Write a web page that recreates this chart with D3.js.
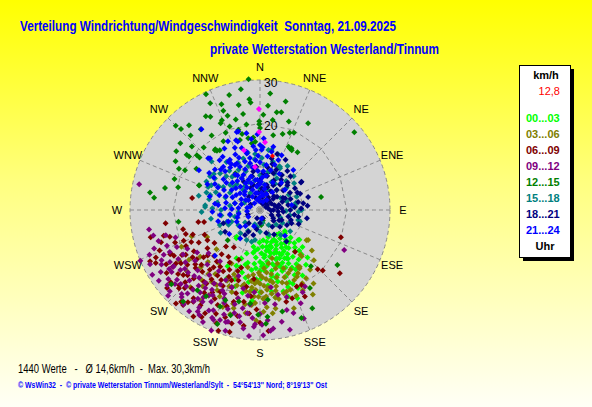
<!DOCTYPE html>
<html>
<head>
<meta charset="utf-8">
<script src="https://cdn.jsdelivr.net/npm/d3@7"></script>
<style>
  body { margin: 0; padding: 0; overflow: hidden; }
  svg text { font-family: "Liberation Sans", Arial, sans-serif; white-space: pre; }
</style>
</head>
<body>
<div id="chart"></div>
<script>
// wind direction (deg) / speed (km/h) per 3-hour block
const h00_03 = [[174,7.0],[160,7.8],[170,8.6],[145,8.0],[133,7.9],[127,11.4],[151,12.7],[156,18.6],[160,18.9],[157,22.1],
  [220,8.5],[221,8.2],[130,7.5],[146,6.9],[128,11.2],[190,8.6],[206,17.5],[199,13.9],[206,12.4],
  [150,10],[155,9],[162,10.5],[168,11],[172,12],[158,12],[165,13.5],[152,14],[148,12],[143,11],[138,10],[160,15],
  [170,15.5],[176,14],[180,12],[185,11],[178,10],[164,8.5],[156,11],[149,16],[142,14.5],[136,13],[166,17],[174,17.5],
  [183,16],[188,14],[193,12.5],[196,15],[200,17],[154,20],[162,21],[172,19],[168,7.5],[181,7.5],[153,8.2],[139,9],
  [135,15.5],[147,18],[159,16.5],[177,20.5],[186,18.5],[192,19.5],[163,6.5],[141,7],[171,9.5],[157,13.2],[161,11.8],
  [167,12.8],[175,11],[184,13.5],[151,15.2],[145,13.2],[137,11.8],[132,9.5],[154,11.4],[169,14.3],[179,15.8],
  [189,16.8],[203,14],[210,15],[197,10.5],[158,9.8],[148,9.2],[166,10.2],[173,13],[160,14],
  [150,11],[153,12.5],[156,14.5],[159,10.5],[162,12],[165,15.5],[168,9.5],[171,16.5],[174,10.5],[177,12.5],[180,14],
  [183,9],[186,12.5],[189,10],[192,16],[195,13],[198,18.5],[201,12],[146,15],[143,9.5],[140,12.5],[137,14],[134,11],
  [131,13],[152,17],[158,18],[164,19.5],[170,20.5],[180,19],[185,21],[155,7.5],[163,9],[176,8.5],[187,9.5],[150,13],
  [161,13.5],[167,16],[178,13],[145,10.5],[140,16.5]];

const h03_06 = [[249,16.9],[243,13.7],[122,13.1],[128,15.2],[138,13.9],[138,14.4],[145,16.0],[123,12.8],[146,15.8],
  [146,16.3],[153,15.5],[151,17.6],[162,19.8],[159,19.7],
  [165,14],[170,15],[175,16],[180,17],[168,18],[172,19.5],[178,20.5],[183,18.5],[187,16.5],[160,16.5],[163,17.5],
  [176,13.5],[181,14.5],[190,19],[194,21],[199,20],[185,22],[176,22.5],[168,21],[157,21.5],[154,18],[188,24],[196,25],
  [205,22],[210,20],[215,18],[220,21],[226,19],[232,17.5],[238,22],[245,20],[202,16],[208,14],[192,13.5],[171,12.5],
  [166,11.5],[174,18],[179,19],[184,20],[170,17],[177,17.5],[162,13],[158,14.5],[150,19.5],[144,21],[140,18],[133,17],
  [148,23],[161,24],[182,25.5],[173,24],[192,17.5],[197,18.2],[186,15],[213,25],[222,24],[218,15.5],[228,13.5],
  [166,16],[169,19],[172,16.5],[175,18.5],[178,15.5],[181,20],[184,17],[187,19],[190,15.5],[193,18],[196,22.5],
  [199,16.5],[202,19],[205,18],[208,21],[211,23],[214,20],[217,22],[164,20],[160,18],[156,16],[152,21],[149,17],
  [146,19],[171,23],[178,23.5],[183,21.5],[189,22],[195,23.5],[201,24],[230,22],[235,20],[225,17],[219,19],[174,14.5],
  [180,15],[186,18],[170,20.5],[176,20],[182,16.5]];

const h06_09 = [[253.5,21.7],[244,22.9],[237.6,23.0],[229.7,23.2],[227,25.5],[216,26.2],[212,25.9],[208.6,28.1],
  [256,18.3],[258,13.2],[259,14.5],[245.5,26.4],[243.8,23.1],[240,20.8],[220.7,27.9],[219,28.2],[108.6,19.7],
  [135.8,19.1],[133.9,20.1],[128.4,23.5],[140,12.6],[154.4,19.6],[151,19.8],[152.6,22.5],[160,21.7],[164,22.0],[280,15.9],
  [200,15],[205,17],[210,14],[215,16],[220,18],[225,15],[230,17],[235,19],[212,20],[218,21],[224,22],[206,21],[200,19],
  [196,22],[190,18],[186,20],[182,23],[192,25],[198,26],[204,24],[228,20],[232,24],[238,18],[242,16],[248,19],[252,24],
  [236,26],[226,26],[214,23],[209,18.5],[203,12.5],[214,13],[221,13.5],[246,14],[234,13],[217,25.5],[222,29],[230,28],
  [201,28],[194,29],[188,27],[180,26],[176,28],[211,16.5],[219,17],[227,18.5],[233,21],[207,23],[199,23.5],[185,16],
  [240,25],[245,28],[256,26],[262,22],[250,16.5],[197,17],[223,11.5],[215,10.5],
  [198,14],[202,17.5],[206,19.5],[210,22],[213,18],[216,21],[220,15.5],[223,19.5],[226,24],[229,16],[232,18.5],
  [236,22],[239,20],[242,22.5],[245,17.5],[249,21],[252,18],[255,23],[203,26],[208,27],[212,29],[218,27],[224,25],
  [231,26.5],[237,24],[243,27],[248,25],[207,15.5],[215,19.5],[221,24],[228,22.5],[234,15],[240,14],[196,20],
  [190,21.5],[186,24],[194,27],[199,29.5],[244,19],[230,19.5]];

const h09_12 = [[256.5,25.3],[243.7,28.3],[236.8,23.9],[235,24.9],[211.5,27.5],[204,27.2],[196,26.8],[190,26.3],
  [185,29.2],[188,27.6],[182.5,26.4],[178.5,28.9],[173.6,27.5],[169,26.3],[165,23.9],[156.4,23.5],[149.6,20.5],
  [152.6,21.4],[115.4,21.5],[282,28.5],[237,23.8],
  [215,22],[220,24],[225,23],[230,25],[235,21],[240,24],[245,23],[250,26],[218,19],[212,20],[208,24],[202,22],[198,24],
  [194,21],[190,23],[186,22],[200,19],[226,20],[232,19],[222,27],[216,26],[210,28],[228,28],[238,27],[246,21],
  [252,20.5],[242,19],[229,22],[224,17.5],[206,18],[214,17],[196,29],[202,30],[180,24],[176,25.5],[171,22],[162,25],
  [158,27],[166,28.5],[192,18.5],[188,20],[205,25.5],[212,25],[219,22.5],[233,26.5],[239,22],[248,27.5],[255,22.5],
  [260,26],[227,25],[203,21],[211,21.5],[197,27],[184,25],[230,15.5],[218,15],[236,17.5],[222,21],[215,28.5],[207,29],
  [243,25.5],[184,19],[177,21.5],[172,18],[168,20],[163,21],[198,16],
  [201,23],[205,20.5],[209,22.5],[213,24],[217,21],[221,25.5],[225,21.5],[229,26],[233,23],[237,25],[241,26],
  [245,24.5],[249,23],[253,24.5],[195,22.5],[191,25],[187,24],[183,27],[179,26.5],[175,28],[199,25.5],[203,27.5],
  [207,26],[211,23],[215,25],[219,28],[223,26.5],[227,29],[231,27.5],[235,28.5],[239,29],[247,30],[208,19.5],
  [216,23.5],[224,24.5],[232,22],[240,20.5],[212,26.5],[200,27],[194,24.5]];

const h12_15 = [[355,30.3],[335,29.5],[335,27.2],[351,28.2],[354.5,25.7],[355,24.9],[348.5,24.7],[4.4,24.1],
  [13.3,25.7],[9.7,22.9],[12.3,23.1],[339.7,24.4],[341,23.0],[332,24.4],[345,21.6],[359.5,20.5],[359.5,19.8],[0,18.9],
  [351,20.0],[335.6,22.0],[315,27.5],[315.7,26.1],[323.7,23.1],[317,23.5],[336,19.5],[345,19.2],[346.7,18.0],
  [354.7,16.8],[356,15.8],[16.6,18.3],[21,19.1],[23.7,19.5],[24.4,16.0],[27,16.0],[33,15.9],[29,22.9],[50.5,28.2],
  [305,23.6],[307,21.2],[307,20.5],[311,19.3],[311,18.5],[318,19.4],[323.6,17.4],[324,16.9],[297,21.0],[298,19.6],
  [292,15.1],[285.5,19.6],[279,25.7],[276.6,24.6],[78,14.4],[326,10.2],
  [137.8,17.5],[125.4,21.9],[147.4,21.4],[152,25.7],[167.6,24.0],[159,26.7],[177,26.3],
  [261.8,19.0],[227,10.2],[200.5,28.1],[230,26.7],[212,23.5],[195.6,25.2],[175,20.8],[202.5,24.1],[176,24.7],
  [186,21.7],[218,23.5],[220,27.6],[201,22.3],[181,24.2],[193,21.7],
  [170,3],[165,2.5],[175,3.5],[324.5,9.9],[353,15.5],[350.7,16.8],[344,16.8],[323,17.3],[326,16.6],[26,15.8],[28,15.6],
  [292,15.2],[24,10.9],
  [340,26],[330,25],[320,25.5],[310,24],[300,22.5],[345,27.5],[5,27],[8,21],[18,21.5],[350,22.5],[327,20.5],
  [313,21.5],[303,17.5],[290,21],[283,22.5],[340,20.5],[332,18],[2,22],[10,17.5],[337,22.5]];

const h15_18 = [[275,12.7],[286.7,12.0],[297,12.6],[315,15.8],[312.5,12.5],[305,12.7],[249.4,9.9],[250.6,8.1],
  [22,9.1],[27.8,8.3],[24.8,11.0],[82,8.2],[92.5,8.9],[106,9.6],[11,14.1],[304,13.9],[294,13.1],[273,12.7],[354,11.8],
  [25.6,10.7],[31.8,9.5],[84,7.7],[79,8.4],[84.6,8.1],[90,9.6],[104.6,9.1],[204,7.6],[194.7,7.6],[189.5,7.0],
  [247.6,7.1],[235,6.1],
  [300,8],[310,9],[320,10],[330,8.5],[340,9.5],[350,7],[0,8],[10,6],[20,5],[40,6],[60,5.5],[120,6],[150,4],[180,5],
  [210,5.5],[230,4.5],[260,7],[270,9],[280,10],[290,8.5],[300,11],[320,6],[335,12],[345,10.5],[5,10.5],[15,11.5],
  [30,7],[50,8],[70,9],[110,5],[140,7.5],[170,3],[200,3.5],[240,10.5],[265,5],[285,6],[325,13.5],[315,11],[355,13],
  [45,11],[260,11.5],[283,14.5],[295,4],[330,4.5],
  [262,9],[272,11],[282,12],[292,11],[302,10],[312,8],[322,11.5],[332,10.5],[342,12.5],[352,9.5],[2,12],[12,9],
  [22,7],[32,12],[42,9],[52,10],[62,7.5],[72,6.5],[92,6],[112,7.5],[132,5],[160,6],[190,4],[220,7],[245,8],[255,6],
  [268,13.5],[278,7],[288,13],[298,14],[308,13.5],[318,8],[328,6.5],[338,7],[348,13.5],[358,5],[8,14],[18,13.5],
  [100,7],[125,8.5]];

const h18_21 = [[55.8,11.6],[81,10.1],[65,6.4],[80,6.6],[85.5,5.0],[105,4.4],[78.6,1.9],[113,2.9],[122,3.6],
  [211,6.7],[208,5.7],[195,6.0],[238,9.5],[250,9.0],[143.6,4.8],[12.7,12.2],[56,11.4],[95,4.2],[94,5.4],[90,3.1],
  [115,5.5],[103,6.7],[112.8,7.9],[119,7.1],
  [10,3],[20,4],[30,5],[40,6],[50,7],[60,8],[70,7.5],[15,6],[25,7.5],[35,8.5],[45,9],[5,5],[355,4],[345,6],[340,3],
  [0,7],[30,2.5],[60,3],[75,4.5],[50,4],[40,2],[20,9],[10,10],[65,9.5],[85,8],[100,9],[130,6],[160,2],[200,2],
  [250,3],[300,2.5],[320,4],[330,7.5],[350,9],[15,11],[35,11],[45,4.5],[70,5.5],[90,7],[55,2],[25,1.5],[140,9.5],
  [8,4.5],[18,5.5],[28,6.5],[38,7.5],[48,8.5],[58,9.5],[68,10],[78,9],[88,9.5],[98,8],[108,7.5],[118,5],[128,4],
  [12,8],[22,10],[32,9.5],[42,10.5],[52,5],[62,6],[72,3.5],[82,4],[92,2.5],[2,2],[357,6],[347,8],[337,5.5],[33,3.5],
  [43,3],[63,1.5],[110,9.5],[100,11],[75,11.5],[85,11],[27,13],[17,13.5],[5,8.5],[355,10],[180,3],[190,4.5],[220,4],
  [165,5.5],[150,6.5]];

const h21_24 = [[344.5,18.8],[342,16.6],[330,16.4],[315,16.9],[0,15.0],[1.6,13.9],[11.9,14.9],[11.3,13.7],
  [21.5,13.6],[346.8,13.4],[349,12.2],[342.7,11.7],[331,11.9],[326.7,13.3],[319.7,13.1],[324,23.0],[303,16.8],
  [343.4,18.8],[354,14.8],[356,13.9],[2.5,14.5],[39.8,12.0],[316,16.6],[321,14.8],[343.5,14.9],[347,13.8],
  [329,13.5],[333.5,12.0],[20,12.3],[277,9.7],[263,9.3],[273,8.1],[250,7.8],[240,3.1],[288,2.4],[11,5.9],[34,2.8],
  [51,7.4],[81,7.4],[330,8.4],[320.7,5.5],[224.6,14.8],[136,8.3],
  [300,5],[310,6],[320,7],[330,6],[340,5],[350,4],[355,7],[345,8],[335,9],[325,10],[315,9],[305,8],[295,7],[285,6],
  [275,5],[290,10],[300,12],[310,11],[335,11],[350,10],[5,9],[0,11],[10,8],[355,11.5],[340,10],[320,2],[0,3],[20,2],
  [280,3],[260,5],[230,6],[200,4],[170,2],[330,3.5],[345,2.5],[310,3.5],[0,6],[15,9.5],[8,12.5],[353,16.5],
  [338,15.5],[325,15],[305,13],[298,11],[285,12],[312,14],[357,9],[5,4],
  [302,6.5],[312,7.5],[322,8.5],[332,7],[342,6.5],[352,5.5],[2,6.5],[12,5],[22,4],[292,8.5],[282,8],[272,6.5],
  [262,7],[252,5.5],[318,12],[328,12.5],[338,13],[348,11],[358,12.5],[8,10.5],[18,11],[28,9.5],[38,8],[296,13.5],
  [306,14.5],[316,13],[336,14],[341,17],[350,18],[358,17.5],[3,16.5],[335,17.5],[325,12],[315,5],[305,4],[345,4],
  [355,2],[35,5],[25,7],[287,4.5],[265,3],[243,6],[222,5],[232,9],[215,8],[255,10],[268,11],[278,10.5],[299,9.5],
  [309,10],[327,9.5],[339,7.5],[351,7],[4,7.5],[13,3.5]];

const pinkMarks = [[359.4,23.3],[359.3,18.0],[4.2,15.7],[345,14.3],[353.4,10.0]];
const current = [13, 12.8];

const blockLabels = ["00...03","03...06","06...09","09...12","12...15","15...18","18...21","21...24"];
const blockColors = ["#00ff00","#808000","#800000","#800080","#008000","#008080","#000080","#0000ff"];
const blockData = [h00_03, h03_06, h06_09, h09_12, h12_15, h15_18, h18_21, h21_24];

const compass = ["N","NNE","NE","ENE","E","ESE","SE","SSE","S","SSW","SW","WSW","W","WNW","NW","NNW"];
const rings = [10, 20, 30];

const W = 592, H = 407;
const cx = 260, cy = 210;

const svg = d3.select("#chart").append("svg")
    .attr("width", W)
    .attr("height", H);

const defs = svg.append("defs");
const grad = defs.append("linearGradient")
    .attr("id", "bg")
    .attr("x1", 0).attr("y1", 0).attr("x2", 0).attr("y2", 1);
grad.append("stop").attr("offset", "0%").attr("stop-color", "#ffff00");
grad.append("stop").attr("offset", "45%").attr("stop-color", "#ffff80");
grad.append("stop").attr("offset", "100%").attr("stop-color", "#fffff6");

svg.append("rect").attr("width", W).attr("height", H).attr("fill", "url(#bg)");

const rScale = d3.scaleLinear().domain([0, 30]).range([0, 130]);
const toRad = d => d * Math.PI / 180;
function pos(dir, spd) {
    const p = d3.pointRadial(toRad(dir), rScale(spd));
    return [cx + p[0], cy + p[1]];
}

// titles
svg.append("text")
    .attr("x", 20).attr("y", 31)
    .attr("font-size", 14).attr("font-weight", "bold")
    .attr("fill", "#0000ff")
    .attr("textLength", 376).attr("lengthAdjust", "spacingAndGlyphs")
    .text("Verteilung Windrichtung/Windgeschwindigkeit  Sonntag, 21.09.2025");

svg.append("text")
    .attr("x", 210).attr("y", 54)
    .attr("font-size", 14).attr("font-weight", "bold")
    .attr("fill", "#0000ff")
    .attr("textLength", 229).attr("lengthAdjust", "spacingAndGlyphs")
    .text("private Wetterstation Westerland/Tinnum");

// polar plot area
const plot = svg.append("g").attr("transform", `translate(${cx},${cy})`);

plot.append("circle")
    .attr("r", rScale(30))
    .attr("fill", "#d4d4d4")
    .attr("stroke", "#8a8a8a")
    .attr("stroke-dasharray", "4,3");

const angles = d3.range(16).map(i => i * 22.5);

plot.selectAll("line.spoke")
    .data(angles)
    .enter()
    .append("line")
    .attr("class", "spoke")
    .attr("x1", 0).attr("y1", 0)
    .attr("x2", d => d3.pointRadial(toRad(d), rScale(30))[0])
    .attr("y2", d => d3.pointRadial(toRad(d), rScale(30))[1])
    .attr("stroke", "#8a8a8a")
    .attr("stroke-dasharray", "4,3");

plot.selectAll("path.ring")
    .data(rings.slice(0, 2))
    .enter()
    .append("path")
    .attr("class", "ring")
    .attr("d", v => d3.lineRadial().curve(d3.curveLinearClosed)
        .angle(a => toRad(a)).radius(rScale(v))(angles))
    .attr("fill", "none")
    .attr("stroke", "#8a8a8a")
    .attr("stroke-dasharray", "4,3");

plot.selectAll("text.ringlabel")
    .data(rings)
    .enter()
    .append("text")
    .attr("class", "ringlabel")
    .attr("x", 4)
    .attr("y", v => -rScale(v) + 7)
    .attr("font-size", 12)
    .attr("fill", "#000")
    .text(v => v);

// compass labels
svg.selectAll("text.dir")
    .data(compass)
    .enter()
    .append("text")
    .attr("class", "dir")
    .attr("x", (d, i) => cx + d3.pointRadial(toRad(i * 22.5), 143)[0])
    .attr("y", (d, i) => cy + d3.pointRadial(toRad(i * 22.5), 143)[1])
    .attr("text-anchor", "middle")
    .attr("dominant-baseline", "central")
    .attr("font-size", 11)
    .attr("fill", "#000")
    .text(d => d);

// points, oldest block first
const diamond = "M0,-3L3,0L0,3L-3,0Z";
blockData.forEach((data, k) => {
    svg.append("g")
        .selectAll("path")
        .data(data)
        .enter()
        .append("path")
        .attr("d", diamond)
        .attr("transform", d => `translate(${pos(d[0], d[1])})`)
        .attr("fill", blockColors[k]);
});

svg.append("g")
    .selectAll("path")
    .data(pinkMarks)
    .enter()
    .append("path")
    .attr("d", diamond)
    .attr("transform", d => `translate(${pos(d[0], d[1])})`)
    .attr("fill", "#ff00ff");

svg.append("path")
    .attr("d", "M0,-2.5L2.5,0L0,2.5L-2.5,0Z")
    .attr("transform", `translate(${pos(current[0], current[1])})`)
    .attr("fill", "#ff0000");

// legend box
svg.append("rect")
    .attr("x", 523).attr("y", 69).attr("width", 51).attr("height", 192)
    .attr("fill", "#000");
svg.append("rect")
    .attr("x", 519.5).attr("y", 65.5).attr("width", 51).attr("height", 192)
    .attr("fill", "#fff").attr("stroke", "#000");

svg.append("text")
    .attr("x", 546).attr("y", 79)
    .attr("text-anchor", "middle")
    .attr("font-size", 11).attr("font-weight", "bold")
    .text("km/h");

svg.append("text")
    .attr("x", 560).attr("y", 95)
    .attr("text-anchor", "end")
    .attr("font-size", 11)
    .attr("fill", "#ff0000")
    .text(String(current[1]).replace(".", ","));

svg.selectAll("text.leg")
    .data(blockLabels)
    .enter()
    .append("text")
    .attr("class", "leg")
    .attr("x", 526)
    .attr("y", (d, i) => 122 + i * 16)
    .attr("font-size", 11).attr("font-weight", "bold")
    .attr("fill", (d, i) => blockColors[i])
    .text(d => d);

svg.append("text")
    .attr("x", 545).attr("y", 250)
    .attr("text-anchor", "middle")
    .attr("font-size", 11).attr("font-weight", "bold")
    .text("Uhr");

// footer
svg.append("text")
    .attr("x", 18).attr("y", 373)
    .attr("font-size", 12)
    .attr("fill", "#000")
    .attr("textLength", 192).attr("lengthAdjust", "spacingAndGlyphs")
    .text("1440 Werte   -   Ø 14,6km/h  -  Max. 30,3km/h");

svg.append("text")
    .attr("x", 18).attr("y", 388)
    .attr("font-size", 8.5).attr("font-weight", "bold")
    .attr("fill", "#0000ff")
    .attr("textLength", 309).attr("lengthAdjust", "spacingAndGlyphs")
    .text("© WsWin32  -  © private Wetterstation Tinnum/Westerland/Sylt  -  54°54'13'' Nord; 8°19'13'' Ost");
</script>
</body>
</html>
